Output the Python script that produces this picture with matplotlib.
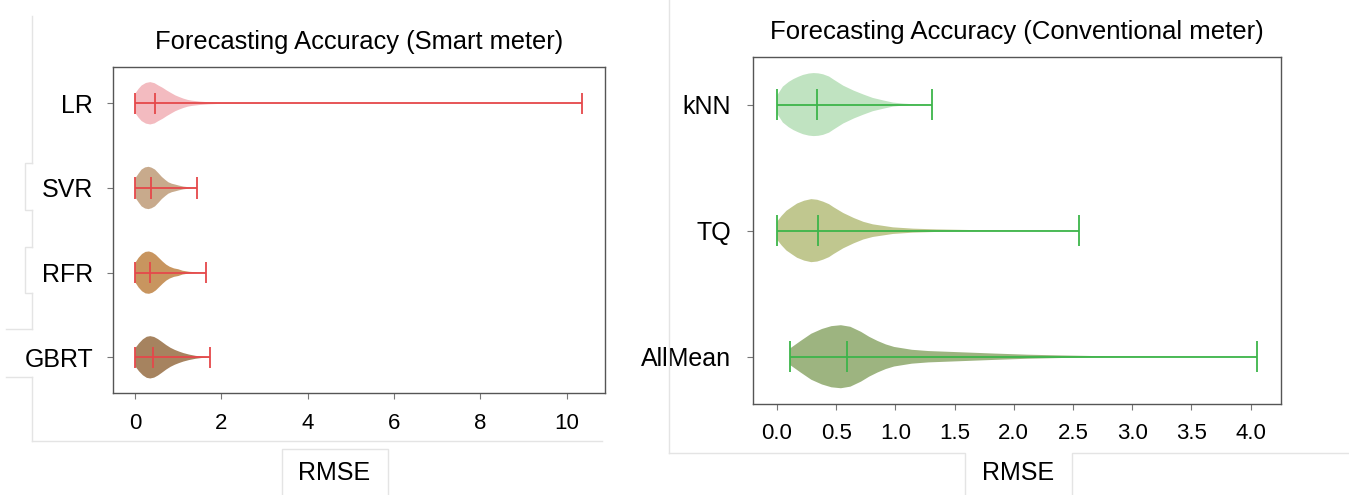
import numpy as np
import matplotlib
matplotlib.use("Agg")
import matplotlib.pyplot as plt
from matplotlib.lines import Line2D

plt.rcParams['font.family'] = ['Liberation Sans', 'DejaVu Sans']

# ---------------- data ----------------
smart_methods = ["LR", "SVR", "RFR", "GBRT"]
smart_min = [0.0, 0.0, 0.0, 0.0]
smart_max = [10.36, 1.44, 1.63, 1.745]
smart_median = [0.46, 0.36, 0.355, 0.42]

# relative density profiles (RMSE knots, relative density)
lr_x = [0.0, 0.08, 0.15, 0.25, 0.35, 0.45, 0.54, 0.64, 0.73, 0.83, 0.93, 1.03, 1.12, 1.22, 1.31, 1.5, 1.7, 2.0, 2.5, 3.5, 5.0, 7.0, 10.36]
lr_d = [0.45, 0.68, 0.84, 0.96, 1.0, 0.95, 0.84, 0.73, 0.61, 0.49, 0.375, 0.29, 0.22, 0.16, 0.125, 0.08, 0.05, 0.025, 0.012, 0.006, 0.005, 0.004, 0.003]
svr_x = [0.0, 0.08, 0.15, 0.23, 0.31, 0.38, 0.46, 0.54, 0.62, 0.70, 0.77, 0.85, 0.93, 1.02, 1.12, 1.3, 1.44]
svr_d = [0.44, 0.68, 0.87, 0.97, 1.0, 0.96, 0.87, 0.70, 0.52, 0.38, 0.27, 0.20, 0.16, 0.11, 0.065, 0.02, 0.005]
rfr_x = [0.0, 0.08, 0.16, 0.24, 0.32, 0.40, 0.48, 0.56, 0.64, 0.72, 0.80, 0.90, 1.0, 1.1, 1.25, 1.45, 1.63]
rfr_d = [0.45, 0.70, 0.88, 0.98, 1.0, 0.95, 0.84, 0.68, 0.52, 0.38, 0.28, 0.20, 0.16, 0.09, 0.04, 0.012, 0.004]
gbrt_x = [0.0, 0.09, 0.18, 0.27, 0.35, 0.44, 0.53, 0.62, 0.72, 0.82, 0.92, 1.02, 1.12, 1.25, 1.4, 1.55, 1.745]
gbrt_d = [0.42, 0.66, 0.85, 0.97, 1.0, 0.96, 0.86, 0.73, 0.58, 0.45, 0.35, 0.27, 0.20, 0.13, 0.07, 0.03, 0.006]

conv_methods = ["kNN", "TQ", "AllMean"]
conv_min = [0.0, 0.0, 0.11]
conv_max = [1.31, 2.55, 4.05]
conv_median = [0.336, 0.35, 0.59]

knn_x = [0.0, 0.05, 0.10, 0.14, 0.18, 0.22, 0.27, 0.31, 0.35, 0.39, 0.44, 0.48, 0.56, 0.65, 0.73, 0.81, 0.90, 0.98, 1.07, 1.15, 1.31]
knn_d = [0.28, 0.57, 0.72, 0.81, 0.88, 0.94, 0.985, 1.0, 0.99, 0.96, 0.89, 0.79, 0.60, 0.44, 0.32, 0.21, 0.13, 0.064, 0.03, 0.01, 0.002]
tq_x = [0.0, 0.04, 0.08, 0.13, 0.17, 0.23, 0.29, 0.34, 0.39, 0.44, 0.48, 0.56, 0.65, 0.73, 0.81, 0.90, 0.98, 1.15, 1.35, 1.63, 1.97, 2.55]
tq_d = [0.28, 0.47, 0.63, 0.76, 0.86, 0.95, 1.0, 0.98, 0.92, 0.84, 0.74, 0.56, 0.40, 0.28, 0.20, 0.15, 0.105, 0.063, 0.04, 0.02, 0.01, 0.002]
am_x = [0.11, 0.2, 0.29, 0.38, 0.46, 0.54, 0.62, 0.71, 0.78, 0.85, 0.92, 0.99, 1.14, 1.28, 1.56, 1.84, 2.12, 2.41, 2.7, 3.0, 3.5, 4.05]
am_d = [0.26, 0.50, 0.73, 0.88, 0.97, 1.0, 0.95, 0.79, 0.63, 0.50, 0.39, 0.31, 0.22, 0.18, 0.14, 0.10, 0.064, 0.04, 0.02, 0.01, 0.005, 0.002]

smart_profiles = [(lr_x, lr_d), (svr_x, svr_d), (rfr_x, rfr_d), (gbrt_x, gbrt_d)]
conv_profiles = [(knn_x, knn_d), (tq_x, tq_d), (am_x, am_d)]

smart_colors = ["#F3BBC0", "#C8AA8C", "#C8955F", "#A6835F"]
conv_colors = ["#C0E3C1", "#C0C78F", "#9DB480"]
smart_line = "#E5484A"
conv_line = "#3DB54A"

W, H = 1349, 495
fig = plt.figure(figsize=(W / 100, H / 100), dpi=100)
fig.patch.set_facecolor("white")


def px_line(xs, ys):
    fig.add_artist(Line2D([x / W for x in xs], [1 - y / H for y in ys],
                          transform=fig.transFigure, color="#e4e4e4", lw=1.0))


# faint frame remnants of the original composite image
px_line([32, 32], [16, 163])
px_line([32, 32], [210, 247])
px_line([32, 32], [293, 329])
px_line([32, 32], [377, 441])
px_line([32, 25, 25, 32], [163, 163, 210, 210])
px_line([32, 25, 25, 32], [247, 247, 293, 293])
px_line([6, 32], [329, 329])
px_line([6, 32], [377, 377])
px_line([32, 602], [441, 441])
px_line([282, 282, 388, 388], [495, 449, 449, 495])
px_line([669, 669], [0, 453])
px_line([669, 965, 965], [453, 453, 495])
px_line([1072, 1072, 1349], [495, 453, 453])


def make_stats(profiles, mins, maxs, meds):
    stats = []
    for (xs, ds), lo, hi, md in zip(profiles, mins, maxs, meds):
        stats.append(dict(coords=np.array(xs, float), vals=np.array(ds, float),
                          mean=md, median=md, min=lo, max=hi))
    return stats


def draw(ax, methods, profiles, mins, maxs, meds, colors, lcolor, title, tsize, ypad):
    n = len(methods)
    positions = list(range(n, 0, -1))
    stats = make_stats(profiles, mins, maxs, meds)
    parts = ax.violin(stats, positions=positions, orientation='horizontal',
                      widths=0.5, showmeans=False, showextrema=True, showmedians=True)
    for body, c in zip(parts['bodies'], colors):
        body.set_facecolor(c)
        body.set_edgecolor('none')
        body.set_alpha(1.0)
    for key in ('cmins', 'cmaxes', 'cbars', 'cmedians'):
        parts[key].set_color(lcolor)
        parts[key].set_linewidth(1.3)
    ax.set_yticks(positions)
    ax.set_yticklabels(methods, fontsize=18)
    ax.tick_params(axis='y', length=4, width=0.8, color='#777777', pad=ypad)
    ax.tick_params(axis='x', length=4, width=0.8, color='#777777', labelsize=16, pad=10)
    for sp in ax.spines.values():
        sp.set_color('#555555')
        sp.set_linewidth(1.0)
    ax.set_title(title, fontsize=tsize, pad=13)


ax1 = fig.add_axes([112.8 / W, (H - 393.3) / H, (604.7 - 112.8) / W, 326 / H])
draw(ax1, smart_methods, smart_profiles, smart_min, smart_max, smart_median,
     smart_colors, smart_line, "Forecasting Accuracy (Smart meter)", 18.4, 10)
ax1.set_xticks([0, 2, 4, 6, 8, 10])

ax2 = fig.add_axes([753 / W, (H - 404) / H, 527.5 / W, 346.7 / H])
draw(ax2, conv_methods, conv_profiles, conv_min, conv_max, conv_median,
     conv_colors, conv_line, "Forecasting Accuracy (Conventional meter)", 18.5, 12)
ax2.set_xticks(np.arange(0, 4.01, 0.5))
ax2.set_xticklabels([f"{v:.1f}" for v in np.arange(0, 4.01, 0.5)])

fig.text(334 / W, 1 - 473 / H, "RMSE", fontsize=18, ha='center', va='center')
fig.text(1018 / W, 1 - 473 / H, "RMSE", fontsize=18, ha='center', va='center')

fig.savefig("out.png", dpi=100, facecolor="white")
